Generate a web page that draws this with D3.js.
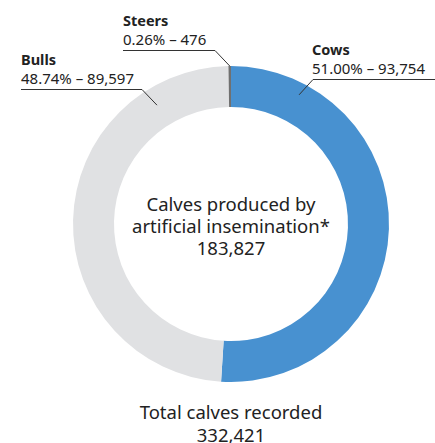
<html>
<script src='https://cdn.jsdelivr.net/npm/d3@7'></script>
<style>
  body { margin: 0; background: #fff; }
  text { font-family: 'Noto Sans', sans-serif; fill: #222; }
</style>
<body onload='init()'>
<svg width=435 height=443></svg>
<script>
// Data
const categories = ['Cows', 'Bulls', 'Steers']
const counts = [93754, 89597, 476]
const percents = ['51.00%', '48.74%', '0.26%']
const centreLines = ['Calves produced by', 'artificial insemination*', '183,827']
const totalLines = ['Total calves recorded', '332,421']

function init() {
    const svg = d3.select('svg')
    const cx = 231, cy = 224
    const outerR = 158, innerR = 117

    const color = d3.scaleOrdinal().domain(categories).range(['#4891d0', '#e0e1e3', '#707070'])

    const pie = d3.pie().sort(null).value(d => d.count)
    const arc = d3.arc().innerRadius(innerR).outerRadius(outerR)
    const data = categories.map((c, i) => ({ name: c, count: counts[i], pct: percents[i] }))
    const arcs = pie(data)

    const g = svg.append('g').attr('transform', `translate(${cx},${cy})`)
    g.selectAll('path')
      .data(arcs)
      .enter()
      .append('path')
      .attr('d', arc)
      .attr('fill', d => color(d.data.name))

    // label layout: text origin, underline end, pointer angle/radius
    const layout = {
      Cows:   { x: 312, y: 55, lineTo: 435, side: 'left', ang: 0.485, r: 146 },
      Bulls:  { x: 21,  y: 65, lineTo: 142, side: 'right', ang: -0.557, r: 140 },
      Steers: { x: 123, y: 26, lineTo: 215, side: 'right', ang: -0.008, r: 158 }
    }

    arcs.forEach(a => {
      const L = layout[a.data.name]
      const px = cx + L.r * Math.sin(L.ang)
      const py = cy - L.r * Math.cos(L.ang)
      const ly = L.y + 24.5
      const pts = L.side === 'left'
        ? [[L.lineTo, ly], [L.x + 1, ly], [px, py]]
        : [[L.x, ly], [L.lineTo, ly], [px, py]]
      svg.append('path')
        .attr('d', d3.line()(pts))
        .attr('fill', 'none')
        .attr('stroke', '#333')
        .attr('stroke-width', 1)
      svg.append('text')
        .attr('x', L.x).attr('y', L.y)
        .style('font-size', '14.5px').style('font-weight', 'bold')
        .text(a.data.name)
      svg.append('text')
        .attr('x', L.x).attr('y', L.y + 19)
        .style('font-size', '15px')
        .text(`${a.data.pct} – ${d3.format(',')(a.data.count)}`)
    })

    svg.selectAll('.centre')
      .data(centreLines)
      .enter()
      .append('text')
      .attr('class', 'centre')
      .attr('x', cx)
      .attr('y', (d, i) => 211 + i * 22)
      .attr('text-anchor', 'middle')
      .style('font-size', '18.5px')
      .text(d => d)

    svg.selectAll('.total')
      .data(totalLines)
      .enter()
      .append('text')
      .attr('class', 'total')
      .attr('x', cx)
      .attr('y', (d, i) => 419 + i * 23)
      .attr('text-anchor', 'middle')
      .style('font-size', '18.5px')
      .text(d => d)
}
</script>
</body>
</html>
